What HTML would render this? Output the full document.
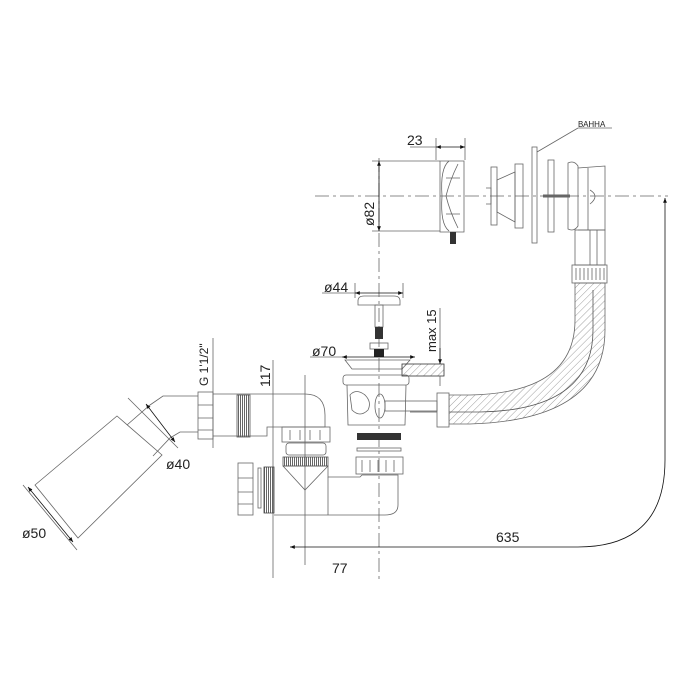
<!DOCTYPE html>
<html><head><meta charset="utf-8"><style>
html,body{margin:0;padding:0;background:#fff;}
svg{display:block;}
text{font-family:"Liberation Sans",sans-serif;fill:#222;}
</style></head><body>
<svg width="700" height="700" viewBox="0 0 700 700" xmlns="http://www.w3.org/2000/svg">
<defs>
<marker id="a" viewBox="0 0 10 10" refX="10" refY="5" markerWidth="6" markerHeight="6" orient="auto-start-reverse"><path d="M0,1 L10,5 L0,9z" fill="#111"/></marker>
<pattern id="h" width="5" height="5" patternUnits="userSpaceOnUse" patternTransform="rotate(45)"><line x1="0" y1="0" x2="0" y2="5" stroke="#888" stroke-width="0.8"/></pattern>
<pattern id="t" width="2" height="4" patternUnits="userSpaceOnUse"><rect width="1" height="4" fill="#666"/></pattern>
</defs>
<g fill="none" stroke="#666" stroke-width="0.8">
<line x1="315" y1="196" x2="668" y2="196" stroke-dasharray="14,4,3,4"/>
<line x1="379" y1="158" x2="379" y2="580" stroke-dasharray="14,4,3,4"/>
<line x1="305" y1="375" x2="305" y2="565"/>
<line x1="273" y1="360" x2="273" y2="578"/>
<line x1="213" y1="338" x2="213" y2="448"/>
<line x1="372" y1="161" x2="440" y2="161"/>
<line x1="372" y1="231" x2="440" y2="231"/>
<line x1="379" y1="161" x2="379" y2="231" stroke="#111" marker-start="url(#a)" marker-end="url(#a)"/>
<line x1="436" y1="138" x2="436" y2="160"/><line x1="465" y1="138" x2="465" y2="160"/>
<line x1="410" y1="147" x2="436" y2="147"/>
<line x1="436" y1="147" x2="465" y2="147" stroke="#111" marker-start="url(#a)" marker-end="url(#a)"/>
<path d="M440,161 L464,161 L464,232 L440,232 Z"/>
<path d="M449,161 Q440,168 442,196 Q440,224 449,231 M458,164 Q450,180 446,196 Q450,212 458,228 M446,178 L460,178 M446,214 L460,214"/>
<rect x="450" y="232" width="6" height="12" fill="#333" stroke="none"/>
<rect x="491" y="167" width="6" height="58"/><rect x="515" y="164" width="8" height="64"/>
<path d="M497,180 L515,172 L515,222 L497,212 Z M486,188 L491,188 L491,204 L486,204"/>
<rect x="532" y="147" width="5" height="96"/>
<line x1="537" y1="152" x2="578" y2="128"/><line x1="578" y1="128" x2="612" y2="128"/>
<rect x="548" y="160" width="6" height="72"/>
<line x1="543" y1="196" x2="570" y2="196" stroke-width="3"/>
<path d="M568,163 Q574,160 578,166 L578,226 Q574,232 568,229 Z"/>
<path d="M578,168 L605,166 L605,230 L578,230 M588,168 L588,230 M590,190 Q600,196 590,204"/>
<rect x="575" y="230" width="30" height="35"/>
<line x1="590" y1="230" x2="590" y2="265"/><line x1="597" y1="230" x2="597" y2="265"/>
<rect x="572" y="265" width="35" height="18"/>
<path d="M576,268 V280 M580,268 V280 M584,268 V280 M588,268 V280 M592,268 V280 M596,268 V280 M600,268 V280 M604,268 V280"/>
<path d="M575,283 L575,320 Q575,393 470,395 L449,395 L449,424 L470,424 Q605,420 605,330 L605,283 Z" fill="url(#h)"/>
<path d="M593,290 L593,330 Q593,410 480,412 L410,412" stroke="#555"/>
<rect x="437" y="393" width="12" height="34" fill="#fff"/>
<line x1="665" y1="198" x2="665" y2="460" stroke="#111" marker-start="url(#a)"/>
<path d="M665,460 Q665,547 578,547 L290,547" stroke="#111" marker-end="url(#a)"/>
<line x1="355" y1="283" x2="355" y2="298"/><line x1="403" y1="283" x2="403" y2="298"/>
<line x1="322" y1="293" x2="355" y2="293"/>
<line x1="355" y1="293" x2="403" y2="293" stroke="#111" marker-start="url(#a)" marker-end="url(#a)"/>
<path d="M358,301 Q358,296 364,296 L394,296 Q400,296 400,301 L400,305 L358,305 Z"/>
<rect x="375" y="305" width="8" height="22"/>
<rect x="375" y="327" width="8" height="12" fill="#333" stroke="none"/>
<rect x="370" y="343" width="18" height="6"/>
<rect x="374" y="349" width="10" height="8" fill="#222" stroke="none"/>
<line x1="310" y1="357" x2="342" y2="357"/>
<line x1="342" y1="357" x2="415" y2="357" stroke="#111" marker-start="url(#a)" marker-end="url(#a)"/>
<path d="M345,360 L410,360 L402,369 L352,369 Z"/>
<rect x="402" y="364" width="42" height="12" fill="url(#h)" stroke="#333"/>
<line x1="440" y1="308" x2="440" y2="364"/>
<line x1="440" y1="348" x2="440" y2="364" stroke="#111" marker-end="url(#a)"/>
<line x1="440" y1="376" x2="440" y2="386"/>
<rect x="343" y="375" width="66" height="10" rx="3"/>
<path d="M347,385 L348,425 L405,425 L406,385"/>
<path d="M350,395 Q356,388 365,395 Q372,402 368,410 Q360,418 352,410 Z"/>
<ellipse cx="380" cy="406" rx="5" ry="12"/>
<rect x="385" y="401" width="52" height="10"/>
<rect x="357" y="433" width="44" height="7" fill="#333" stroke="none"/>
<rect x="357" y="448" width="44" height="3"/>
<rect x="356" y="457" width="47" height="17"/>
<path d="M362,460 V472 M370,460 V472 M378,460 V472 M386,460 V472 M394,460 V472"/>
<path d="M283,466 L328,466 L328,477 L360,477 L362,475 L398,475 L398,505 Q398,515 385,515 L274,515"/>
<path d="M283,466 L305,490 L328,466 M328,477 L328,515"/>
<rect x="283" y="457" width="45" height="9" fill="url(#t)" stroke="#555"/>
<rect x="286" y="443" width="40" height="12" rx="3"/>
<rect x="282" y="427" width="48" height="15"/>
<path d="M290,430 V440 M300,430 V440 M310,430 V440 M320,430 V440"/>
<path d="M213,394 L305,394 Q325,394 325,415 L325,427 L267,427 L267,436 L213,436"/>
<rect x="237" y="395" width="13" height="42" fill="url(#t)" stroke="#555"/>
<rect x="198" y="392" width="15" height="47"/>
<path d="M198,405 H213 M198,418 H213 M198,430 H213"/>
<rect x="238" y="463" width="15" height="52"/>
<path d="M238,478 H253 M238,492 H253 M238,504 H253"/>
<rect x="258" y="468" width="3" height="40"/>
<rect x="264" y="467" width="10" height="46" fill="url(#t)" stroke="#444"/>
<path d="M198,396 L163,396 L150,405 L127,425 M198,432 L180,432 L170,438 L153,456"/>
<polygon points="117,416 162,455 78,538 35,485"/>
<line x1="128" y1="398" x2="178" y2="448"/>
<line x1="146" y1="404" x2="175" y2="442" stroke="#111" marker-start="url(#a)" marker-end="url(#a)"/>
<line x1="23" y1="485" x2="77" y2="550"/>
<line x1="28" y1="487" x2="73" y2="542" stroke="#111" marker-start="url(#a)" marker-end="url(#a)"/>
</g>
<text x="407" y="145" font-size="14">23</text>
<text x="578" y="127" font-size="8">ВАННА</text>
<text x="374" y="226" font-size="14" transform="rotate(-90 374 226)">ø82</text>
<text x="324" y="292" font-size="14">ø44</text>
<text x="312" y="356" font-size="14">ø70</text>
<text x="436" y="352" font-size="13" transform="rotate(-90 436 352)">max 15</text>
<text x="208" y="386" font-size="12" transform="rotate(-90 208 386)">G 1'1/2"</text>
<text x="270" y="387" font-size="14" transform="rotate(-90 270 387)">117</text>
<text x="166" y="469" font-size="14">ø40</text>
<text x="22" y="538" font-size="14">ø50</text>
<text x="496" y="542" font-size="14">635</text>
<text x="332" y="573" font-size="14">77</text>
</svg>
</body></html>
